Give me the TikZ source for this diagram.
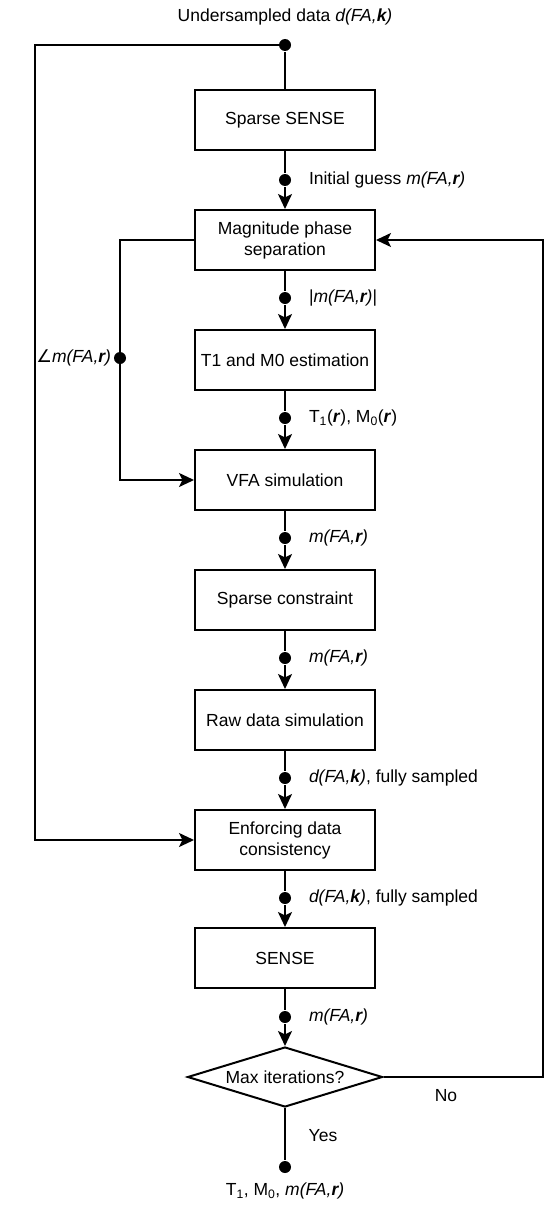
\documentclass[tikz,border=0pt]{standalone}
\usepackage{fontspec}
\setmainfont{Liberation Sans}
\newfontfamily\symfont{DejaVu Sans}
\usetikzlibrary{shapes.geometric,arrows.meta}
\tikzset{
  box/.style={draw, minimum width=180pt, minimum height=60pt, align=center, inner sep=0pt},
  dot/.style={circle, fill, inner sep=0pt, minimum size=12pt},
  lab/.style={anchor=west, inner sep=0pt},
  flow/.style={-{Stealth[length=15pt,width=14pt,inset=3.5pt]}}
}
\newcommand{\mfa}{\textit{m(FA,\textbf{r})}}
\newcommand{\dfa}{\textit{d(FA,\textbf{k})}}
\begin{document}
\begin{tikzpicture}[x=1pt,y=-1pt,line width=2pt,font=\fontsize{17.5}{21}\selectfont]
\useasboundingbox (0,0) rectangle (556,1231);

% main column
\node (input) at (285,17) {Undersampled data \dfa};
\node[dot] (d0) at (285,45) {};
\node[box] (ssense) at (285,120) {Sparse SENSE};
\node[dot] (d1) at (285,180) {};
\node[lab] at (308,180) {Initial guess \mfa};
\node[box] (magph) at (285,240) {Magnitude phase\\separation};
\node[dot] (d2) at (285,298) {};
\node[lab] at (308,298) {|\mfa|};
\node[box] (tmest) at (285,360) {T1 and M0 estimation};
\node[dot] (d3) at (285,418) {};
\node[lab] at (308,418) {T\textsubscript{1}(\textbf{\textit{r}}), M\textsubscript{0}(\textbf{\textit{r}})};
\node[box] (vfa) at (285,480) {VFA simulation};
\node[dot] (d4) at (285,538) {};
\node[lab] at (308,538) {\mfa};
\node[box] (spcon) at (285,600) {Sparse constraint};
\node[dot] (d5) at (285,658) {};
\node[lab] at (308,658) {\mfa};
\node[box] (rawsim) at (285,720) {Raw data simulation};
\node[dot] (d6) at (285,778) {};
\node[lab] at (308,778) {\dfa, fully sampled};
\node[box] (enfdc) at (285,840) {Enforcing data\\consistency};
\node[dot] (d7) at (285,898) {};
\node[lab] at (308,898) {\dfa, fully sampled};
\node[box] (sense) at (285,958) {SENSE};
\node[dot] (d8) at (285,1017) {};
\node[lab] at (308,1017) {\mfa};
\node[draw, diamond, aspect=3.25, minimum width=195pt, minimum height=60pt, inner sep=0pt] (maxit) at (285,1077) {Max iterations?};
\node[dot] (dend) at (285,1167) {};
\node (output) at (285,1191) {T\textsubscript{1}, M\textsubscript{0}, \mfa};

\draw (d0) -- (ssense);
\draw (ssense) -- (d1);
\draw[flow] (d1) -- (magph);
\draw (magph) -- (d2);
\draw[flow] (d2) -- (tmest);
\draw (tmest) -- (d3);
\draw[flow] (d3) -- (vfa);
\draw (vfa) -- (d4);
\draw[flow] (d4) -- (spcon);
\draw (spcon) -- (d5);
\draw[flow] (d5) -- (rawsim);
\draw (rawsim) -- (d6);
\draw[flow] (d6) -- (enfdc);
\draw (enfdc) -- (d7);
\draw[flow] (d7) -- (sense);
\draw (sense) -- (d8);
\draw[flow] (d8) -- (maxit);
\draw (maxit) -- (dend);
\node at (323,1136) {Yes};

% undersampled data to consistency
\coordinate (ltop) at (35,45);
\draw[flow] (d0.center) -- (ltop) |- (enfdc.west);

% phase branch
\node[dot] (dph) at (120,358) {};
\node[anchor=east, inner sep=1pt] at (dph.west) {{\symfont ∠}\mfa};
\draw (magph.west) -| (dph.center);
\draw[flow] (dph.center) |- (vfa.west);

% iteration loop
\coordinate (rbot) at (543,1077);
\draw[flow] (maxit.east) -- (rbot) |- (magph.east);
\node at (446,1096) {No};
\end{tikzpicture}
\end{document}
